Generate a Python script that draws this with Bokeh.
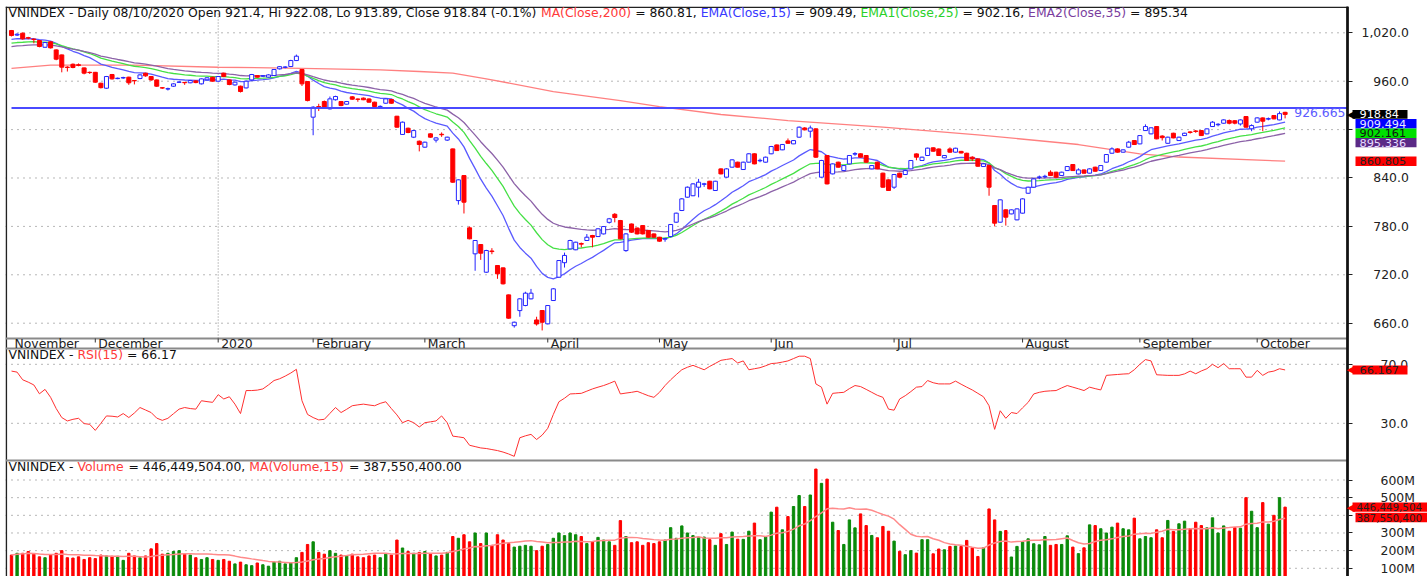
import numpy as np
import pandas as pd
from bokeh.plotting import figure
from bokeh.models import Range1d, Label, BoxAnnotation, FixedTicker, LinearAxis
from bokeh.embed import file_html
from bokeh.resources import INLINE
from bokeh.core.properties import value

# ------------------------------------------------------------------ data
months = ["November", "December", "2020", "February", "March", "April", "May",
          "Jun", "Jul", "August", "September", "October"]
month_start = [0, 15, 37, 54, 74, 96, 116, 136, 158, 181, 202, 223]

open_ = [
    1022.8, 1017.2, 1019.5, 1014.0, 1012.2, 1010.4, 1002.1, 1008.8, 998.8, 992.6, 977.5, 981.0, 980.4, 976.5, 971.0,
    971.0, 957.5, 951.3, 968.3, 963.2, 964.0, 965.0, 960.8, 963.3, 969.9, 965.8, 961.6, 951.9, 950.3, 953.8, 958.6, 958.5, 958.0, 960.4, 956.7, 961.7, 964.9,
    960.0, 970.0, 961.6, 955.4, 953.8, 951.7, 961.6, 967.0, 966.3, 965.0, 967.0, 975.3, 977.2, 978.2, 985.6, 974.5, 959.6,
    915.4, 928.5, 934.8, 925.7, 937.0, 934.8, 931.5, 940.6, 937.9, 939.0, 938.0, 934.0, 928.3, 932.7, 937.3, 916.6, 894.0, 901.7, 890.6, 885.6,
    878.2, 894.7, 887.0, 894.2, 887.0, 876.1, 812.0, 843.0, 778.2, 746.0, 757.5, 723.2, 749.5, 731.5, 728.6, 695.1, 656.9, 675.6, 681.9, 690.2, 664.0, 675.7,
    659.2, 688.1, 717.0, 735.0, 752.1, 751.0, 758.8, 762.5, 768.7, 767.4, 770.7, 785.0, 795.0, 787.3, 750.0, 783.0, 778.0, 781.0, 775.0, 770.7,
    766.6, 764.2, 767.4, 785.2, 799.7, 816.2, 818.0, 828.6, 832.2, 836.0, 824.5, 851.3, 841.0, 853.4, 859.6, 850.5, 859.6, 870.0, 861.3, 859.6,
    870.0, 881.0, 874.9, 886.0, 882.3, 890.6, 902.0, 898.0, 900.9, 841.0, 867.9, 845.1, 859.6, 849.2, 857.5, 869.6, 870.0, 867.9, 851.3, 859.6, 846.0, 837.7,
    828.6, 846.0, 844.3, 851.3, 869.9, 861.7, 867.9, 877.4, 876.0, 865.0, 876.0, 872.0, 873.0, 870.7, 865.8, 863.7, 854.2, 855.4, 805.9, 785.2, 800.5, 795.5, 788.1,
    796.4, 821.1, 828.6, 840.7, 841.5, 847.2, 847.2, 843.0, 849.2, 856.7, 845.0, 850.0, 846.0, 853.4, 849.2, 859.6, 870.7, 876.1, 872.0, 878.2, 886.4,
    882.3, 898.8, 894.7, 903.8, 892.0, 883.0, 895.5, 886.4, 892.6, 897.1, 898.3, 898.8, 894.7, 903.8, 906.0, 907.9, 911.2, 911.0, 907.0, 916.2, 901.0,
    909.2, 914.5, 913.0, 917.4, 912.0, 921.4,
]
high = [
    1023.5, 1019.5, 1020.5, 1015.0, 1013.0, 1011.0, 1008.5, 1009.5, 999.5, 993.0, 978.5, 982.0, 982.0, 977.0, 972.0,
    971.5, 958.0, 966.5, 969.0, 964.5, 965.5, 965.5, 961.5, 968.5, 970.5, 966.5, 962.0, 952.5, 952.0, 957.5, 959.8, 959.0, 961.5, 961.0, 963.5, 965.0, 965.5,
    966.5, 970.5, 962.0, 959.5, 954.5, 960.8, 969.0, 967.5, 967.5, 968.5, 975.0, 978.8, 978.5, 986.5, 993.0, 975.0, 960.0,
    929.0, 932.0, 936.0, 941.0, 942.0, 935.5, 935.5, 941.5, 938.5, 939.8, 938.8, 934.6, 930.0, 938.8, 938.0, 917.0, 910.0, 902.5, 899.5, 886.5,
    885.0, 895.5, 890.5, 896.5, 891.2, 876.5, 838.5, 843.5, 780.0, 763.0, 758.0, 751.0, 753.0, 732.0, 729.0, 695.5, 662.0, 691.0, 699.0, 702.5, 668.0, 676.2,
    682.5, 703.5, 738.3, 747.5, 763.5, 761.0, 760.0, 770.5, 769.5, 777.8, 780.5, 790.5, 796.5, 788.0, 771.5, 783.5, 778.5, 781.5, 775.5, 771.2,
    767.0, 766.0, 783.0, 797.0, 815.0, 829.5, 833.5, 838.9, 834.0, 836.5, 836.5, 852.0, 852.0, 863.2, 860.2, 860.2, 870.8, 870.5, 864.0, 866.5,
    879.8, 881.5, 882.2, 889.0, 887.0, 903.8, 903.0, 905.0, 901.5, 862.5, 868.5, 858.0, 860.2, 856.0, 868.5, 872.0, 870.6, 868.5, 856.0, 860.2, 846.6, 838.2,
    845.0, 846.6, 849.8, 862.3, 870.5, 866.4, 877.6, 878.0, 876.6, 868.5, 878.0, 877.5, 873.6, 871.3, 867.0, 864.3, 858.1, 856.0, 806.5, 813.5, 801.0, 801.0, 802.3,
    814.7, 829.2, 839.5, 843.0, 844.0, 849.5, 847.8, 847.8, 854.8, 857.3, 852.0, 850.6, 851.9, 854.0, 856.0, 869.7, 878.0, 876.7, 875.5, 886.0, 887.0,
    893.2, 906.5, 902.8, 904.4, 893.0, 891.2, 896.1, 891.2, 896.1, 898.0, 899.5, 899.4, 901.5, 910.5, 908.0, 912.6, 912.5, 911.6, 912.6, 916.8, 906.5,
    915.1, 915.1, 915.0, 918.0, 922.5, 922.08,
]
low = [
    1015.5, 1016.0, 1011.5, 1012.0, 1007.0, 1002.0, 1001.5, 1000.5, 986.0, 971.0, 972.0, 976.0, 978.5, 968.5, 969.0,
    958.0, 951.0, 950.5, 962.0, 962.5, 963.0, 955.5, 956.0, 962.5, 965.5, 960.5, 953.0, 950.5, 948.5, 953.0, 958.0, 955.5, 957.5, 957.5, 956.0, 961.0, 959.5,
    959.5, 965.0, 955.0, 954.5, 946.0, 951.0, 961.0, 964.5, 965.5, 964.5, 966.5, 974.5, 976.0, 977.5, 985.0, 954.0, 935.0,
    893.0, 923.0, 926.0, 925.0, 936.0, 929.0, 931.0, 937.0, 934.5, 936.5, 933.5, 928.0, 927.0, 932.0, 932.0, 902.5, 893.5, 895.5, 889.5, 873.0,
    877.5, 890.0, 884.0, 891.0, 886.0, 834.0, 807.0, 796.0, 764.0, 725.0, 738.5, 722.5, 745.5, 715.0, 708.0, 665.5, 654.5, 668.0, 681.0, 689.5, 657.0, 651.0,
    658.5, 687.5, 716.5, 729.0, 751.5, 750.5, 754.0, 762.0, 754.0, 767.0, 770.0, 783.5, 785.0, 764.0, 748.5, 772.0, 770.0, 770.0, 766.0, 766.0,
    761.0, 761.0, 766.5, 784.5, 799.0, 815.5, 817.5, 816.0, 829.0, 826.0, 824.0, 844.5, 840.5, 853.0, 853.0, 850.0, 859.0, 857.0, 859.5, 859.0,
    869.5, 873.5, 874.5, 882.5, 882.0, 890.0, 899.0, 890.0, 865.0, 840.5, 832.0, 844.5, 853.0, 848.5, 857.0, 867.5, 865.2, 859.0, 850.8, 850.8, 828.0, 824.0,
    826.5, 840.5, 843.8, 850.8, 862.0, 861.2, 867.4, 872.7, 867.4, 864.5, 871.5, 871.5, 870.5, 861.2, 861.0, 854.0, 853.7, 818.0, 780.0, 784.7, 781.0, 795.0, 787.6,
    795.9, 820.6, 828.1, 838.5, 839.5, 842.5, 840.5, 842.5, 848.7, 848.7, 844.5, 845.5, 845.5, 847.9, 848.7, 859.1, 870.2, 871.5, 871.5, 877.7, 881.0,
    881.8, 898.3, 894.2, 888.0, 886.5, 882.5, 889.2, 885.9, 892.1, 895.0, 896.0, 892.1, 894.2, 903.3, 904.0, 907.4, 906.5, 906.5, 905.0, 902.5, 898.0,
    908.7, 898.0, 911.5, 912.8, 911.5, 913.89,
]
close = [
    1016.6, 1018.2, 1012.5, 1013.4, 1011.6, 1003.0, 1007.9, 1001.3, 987.3, 977.4, 977.0, 977.0, 979.6, 970.0, 970.7,
    958.8, 952.0, 965.8, 962.9, 963.7, 964.5, 958.0, 960.5, 967.8, 966.6, 961.6, 953.8, 951.5, 950.7, 956.7, 959.0, 958.1, 960.8, 958.3, 962.9, 964.2, 960.0,
    965.8, 965.8, 955.9, 958.8, 947.2, 960.0, 968.3, 965.0, 966.8, 967.8, 974.5, 978.0, 977.6, 985.6, 991.0, 956.7, 936.0,
    927.8, 928.0, 927.0, 938.1, 941.0, 929.8, 934.8, 937.7, 937.5, 937.0, 934.0, 928.6, 928.8, 938.1, 932.7, 903.0, 909.2, 896.4, 898.8, 881.5,
    884.4, 890.6, 889.7, 893.6, 890.6, 834.8, 837.7, 810.0, 764.6, 762.5, 746.8, 750.1, 748.8, 721.2, 708.8, 666.2, 661.2, 690.2, 697.2, 697.2, 659.0, 661.2,
    681.9, 702.6, 737.7, 744.0, 762.5, 760.4, 758.0, 766.6, 766.6, 777.0, 779.8, 789.4, 791.0, 764.6, 770.7, 772.8, 770.7, 770.7, 766.6, 766.6,
    761.7, 764.8, 782.3, 796.4, 814.1, 828.6, 832.7, 834.8, 832.8, 826.5, 836.0, 845.1, 851.3, 862.5, 853.4, 859.6, 870.0, 857.5, 861.9, 865.8,
    879.0, 874.0, 881.5, 883.0, 886.4, 903.0, 899.7, 902.0, 865.8, 861.7, 832.7, 857.5, 853.4, 855.4, 867.9, 870.2, 865.8, 859.6, 855.4, 851.3, 828.6, 824.5,
    844.3, 841.0, 849.2, 861.7, 865.8, 865.8, 877.0, 873.2, 867.9, 867.9, 872.0, 876.9, 871.0, 861.7, 863.7, 854.6, 857.5, 828.6, 784.0, 812.9, 791.4, 800.5, 801.7,
    814.1, 828.6, 838.9, 841.3, 842.1, 843.0, 841.0, 847.2, 854.2, 849.2, 850.0, 846.0, 851.3, 848.4, 855.4, 869.1, 876.1, 872.0, 874.9, 884.4, 881.5,
    892.6, 903.8, 902.2, 888.5, 890.0, 890.6, 889.7, 890.6, 895.5, 896.5, 897.7, 892.6, 900.9, 909.2, 906.6, 912.0, 907.9, 908.0, 912.0, 903.0, 905.0,
    914.5, 910.4, 913.6, 913.3, 919.8, 918.84,
]
volume_m = [
    175, 185, 185, 195, 180, 165, 160, 175, 185, 200, 160, 158, 165, 150, 160,
    155, 175, 170, 168, 168, 145, 185, 170, 160, 170, 210, 240, 180, 185, 195, 200, 180, 175, 160, 150, 160, 150,
    145, 150, 140, 125, 135, 120, 115, 130, 120, 112, 135, 140, 125, 130, 160, 190, 235,
    250, 190, 180, 200, 185, 175, 170, 180, 165, 160, 170, 175, 160, 180, 175, 260, 215, 195, 185, 190,
    195, 180, 170, 175, 190, 280, 270, 290, 250, 300, 240, 300, 230, 290, 260, 240, 220, 225, 230, 225, 200, 225,
    235, 270, 300, 285, 300, 290, 280, 240, 250, 275, 260, 250, 230, 370, 280, 245, 250, 230, 245, 240,
    250, 260, 330, 270, 340, 300, 285, 275,
    277, 262, 230, 296, 235, 305, 265, 264, 310, 356, 262, 277, 418, 446, 318, 393, 450, 512, 450, 515,
    662, 581, 605, 361, 314, 235, 374, 329, 408, 342, 286, 273, 337, 310, 254, 196, 177, 200, 186, 262,
    262, 182, 209, 205, 224, 226, 224, 258, 216, 167, 216, 436, 374, 309, 314, 164, 224, 248, 267, 239,
    233, 280, 230, 235, 235, 284, 220, 183, 216, 346, 342, 324, 300, 333, 356, 324, 318, 384, 267, 280,
    273, 318, 273, 371, 309, 352, 367, 324, 361, 342, 329, 386, 300, 340, 310, 331, 327, 500, 423, 330,
    472, 350, 400, 500, 446.45,
]
rsi15 = [
    65.4, 64.7, 59.5, 57.9, 56.0, 50.0, 53.0, 47.6, 40.0, 33.9, 31.6, 32.7, 33.4, 29.8, 29.3,
    25.2, 30.0, 35.0, 34.8, 34.3, 36.6, 33.9, 37.0, 40.7, 39.0, 37.3, 33.5, 32.0, 33.4, 36.5, 39.6, 40.7, 40.0, 39.6, 45.3, 44.7, 44.2,
    49.4, 46.5, 48.0, 43.0, 36.6, 52.2, 52.2, 52.5, 53.3, 56.0, 59.0, 60.2, 62.0, 64.1, 66.6, 45.3, 36.0,
    33.9, 32.3, 32.7, 36.7, 40.7, 37.3, 39.5, 41.9, 42.5, 43.0, 42.4, 41.9, 43.5, 44.6, 40.0, 35.7, 30.4, 32.0, 30.4, 27.5,
    30.4, 31.0, 31.6, 35.0, 30.4, 21.3, 20.8, 20.2, 15.1, 14.2, 13.3, 12.9, 12.2, 11.5, 10.5, 9.2, 7.6, 20.2, 21.5, 22.5, 19.0, 22.0,
    26.6, 36.0, 44.6, 47.0, 49.9, 50.1, 50.3, 51.8, 53.3, 54.5, 55.6, 57.0, 58.6, 49.9, 50.5, 51.0, 51.7, 50.2, 48.7, 47.6,
    51.0, 55.6, 59.5, 63.0, 66.3, 68.0, 69.3, 67.8, 66.3, 68.6, 70.6, 72.7, 73.3, 73.9, 70.9, 72.3, 66.3, 67.0, 67.7, 69.0,
    70.5, 70.8, 71.5, 72.3, 73.9, 75.5, 75.5, 73.9, 56.7, 54.5, 43.0, 50.3, 50.7, 51.0, 53.5, 55.6, 54.9, 53.0, 51.0, 49.0, 47.6, 39.6,
    38.9, 46.5, 48.7, 51.5, 54.5, 54.9, 59.0, 57.5, 56.7, 56.7, 56.7, 58.6, 56.5, 54.5, 52.6, 50.3, 48.0, 41.9, 25.9, 38.5, 33.4, 37.3, 36.6,
    40.5, 44.2, 49.9, 51.0, 51.7, 52.0, 52.2, 54.0, 55.6, 54.5, 53.4, 52.2, 54.5, 53.5, 52.6, 62.5, 62.8, 63.1, 63.4, 63.6, 66.3,
    70.0, 73.2, 72.3, 62.9, 62.7, 62.5, 62.5, 62.5, 63.5, 65.4, 63.6, 65.5, 67.0, 70.0, 67.7, 70.5, 67.0, 67.0, 67.0, 61.3, 61.3,
    65.9, 62.5, 64.7, 65.4, 67.0, 66.17,
]
ma200_idx = [0, 7, 22, 37, 52, 66, 73, 79, 85, 97, 109, 116, 127, 139, 156, 173, 191, 202, 209, 228]
ma200_val = [976.0, 980.0, 980.0, 977.3, 976.0, 974.0, 972.0, 969.9, 963.0, 947.2, 936.0, 928.6,
             918.7, 911.2, 903.0, 893.5, 881.5, 870.0, 866.0, 860.8]
ema_len = [15, 25, 35]
ema_seed = [1011.2, 1006.3, 1002.0]
resist_level = 926.665
price_ticks = [660, 720, 780, 840, 900, 960, 1020]
rsi_ticks = [30, 70]
vol_ticks = [100, 200, 300, 400, 500, 600]
last_close, last_ema15, last_ema25, last_ema35, last_ma200 = 918.84, 909.494, 902.161, 895.336, 860.805
last_rsi, last_vol, last_volma = 66.167, 446.449504, 387.5504

# ------------------------------------------------------------------ layout / style
FONT = "DejaVu Sans"
FSPX = 12.4
FS = f"{FSPX}px"
TAG_FS = "11.3px"
VTAG_FS = "10.3px"
W, H = 1427, 576
LEFT, TOP = 5, 6
BAR0_PX, BAR_PX = 11.0, 5.586          # pixel of first bar, pixels per bar
BORDER_PX = 1347.0                      # right border of the chart panes


def xd(px):                             # pixel column -> bar coordinate
    return (px - BAR0_PX) / BAR_PX


def price_at(px):
    return 1020.0 - (px - 32.3) * 1.2397


def rsi_at(px):
    return 70.0 - (px - 363.8) / 1.475


def vol_at(px):
    return 600.0 - (px - 479.5) * 5.663


X0, XR, XB = xd(LEFT), xd(W), xd(BORDER_PX)
STRIP_TOP, STRIP_BOT, VOL_TOP = 338.0, 348.0, 460.0

BLUE, RED = "#2323ff", "#ff0000"
C_EMA15, C_EMA25, C_EMA35, C_MA200 = "#5a5aff", "#45e045", "#8c62a8", "#ff8080"
TXT_RED, TXT = "#ff3a3a", "#111111"
GRID = "#6f6f6f"
SEP = "#8a8a8a"

DV = {' ': 651, '%': 1946, '(': 799, ')': 799, ',': 651, '-': 739, '.': 651,
      '/': 690, '=': 1716, 'A': 1401, 'C': 1430, 'D': 1577, 'E': 1294, 'H': 1540, 'I': 604,
      'L': 1141, 'M': 1767, 'N': 1532, 'O': 1612, 'R': 1423, 'S': 1300, 'V': 1401, 'X': 1405,
      'a': 1255, 'e': 1260, 'i': 569, 'l': 569, 'm': 1995, 'n': 1298, 'o': 1253, 'p': 1300,
      's': 1067, 'u': 1298, 'y': 1212}


def tw(s):
    return sum(DV.get(ch, 1303 if ch.isdigit() else 1250) for ch in s) / 2048.0 * FSPX


p = figure(width=W, height=H, x_range=Range1d(X0, XR), y_range=Range1d(price_at(H), price_at(TOP)),
           title=None, output_backend="svg", toolbar_location=None, tools="",
           x_axis_location=None, y_axis_location=None,
           min_border=0, min_border_left=LEFT, min_border_top=TOP, min_border_right=0, min_border_bottom=0)
p.extra_y_ranges = {"rsi": Range1d(rsi_at(H), rsi_at(TOP)), "vol": Range1d(vol_at(H), vol_at(TOP))}
p.outline_line_color = None
p.xgrid.visible = False
p.ygrid.visible = False


def add_axis(rname, ticks, labels, standoff):
    ax = LinearAxis(y_range_name=rname, fixed_location=XB, ticker=FixedTicker(ticks=ticks),
                    major_label_overrides=labels)
    ax.major_tick_out = 5
    ax.major_tick_in = 0
    ax.minor_tick_line_color = None
    ax.major_tick_line_color = "#222222"
    ax.axis_line_color = "#111111"
    ax.axis_line_width = 2
    ax.major_label_standoff = standoff
    ax.major_label_text_font = FONT
    ax.major_label_text_font_size = FS
    ax.major_label_text_color = "#222222"
    p.add_layout(ax, "right")


def hgrid(ticks, rname):
    n = len(ticks)
    p.segment(x0=[X0] * n, y0=ticks, x1=[XB] * n, y1=ticks, y_range_name=rname,
              line_color=GRID, line_width=1, line_dash="1 5")


def title_labels(y_px, segs):
    x = 3.0
    for txt, col in segs:
        stripped = txt.lstrip(' ')
        lead = tw(txt[:len(txt) - len(stripped)])
        p.add_layout(Label(x=x + lead, y=H - y_px, x_units="screen", y_units="screen",
                           text=stripped, text_font=FONT, text_font_size=FS, text_color=col,
                           text_baseline="middle", text_align="left"))
        x += tw(txt)


def tag(rname, yval, half, text, fill, tcol, arrow, left_px, right_px, fs=TAG_FS, text_px=1359):
    p.add_layout(BoxAnnotation(left=left_px - LEFT, right=right_px - LEFT, bottom=yval - half, top=yval + half,
                               left_units="screen", right_units="screen", y_range_name=rname,
                               fill_color=fill, fill_alpha=1.0, line_color=None, level="overlay"))
    if arrow:
        p.add_layout(Label(x=BORDER_PX - 1 - LEFT, y=yval, x_units="screen", y_range_name=rname,
                           text="\u25c0", text_font=FONT, text_font_size="11px", text_color=fill,
                           text_baseline="middle", text_align="left", level="overlay"))
    p.add_layout(Label(x=text_px - LEFT, y=yval, x_units="screen", y_range_name=rname, text=text,
                       text_font=FONT, text_font_size=fs, text_color=tcol,
                       text_baseline="middle", text_align="left", level="overlay"))


N = len(close)
idx = np.arange(N)
o = np.array(open_)
c = np.array(close)
hi = np.array(high)
lo = np.array(low)
up = c >= o

# ------------------------------------------------------------------ grids and pane frames
hgrid(price_ticks, "default")
hgrid(rsi_ticks, "rsi")
hgrid(vol_ticks, "vol")
p.segment(x0=[xd(LEFT + 0.8)], y0=[price_at(TOP)], x1=[xd(LEFT + 0.8)], y1=[price_at(H)],
          line_color="#222222", line_width=1.6)
p.segment(x0=[X0], y0=[price_at(TOP + 0.7)], x1=[XB], y1=[price_at(TOP + 0.7)],
          line_color="#222222", line_width=1.4)
for ypx in (STRIP_TOP, STRIP_BOT, VOL_TOP):
    p.segment(x0=[X0], y0=[price_at(ypx)], x1=[XB], y1=[price_at(ypx)], line_color=SEP, line_width=1.8)

yr = month_start[months.index("2020")]
p.segment(x0=[yr], y0=[price_at(STRIP_TOP)], x1=[yr], y1=[price_at(TOP)], line_color="#8a8a8a",
          line_width=1, line_dash="1 2")

# ------------------------------------------------------------------ price pane
p.line(ma200_idx, ma200_val, line_color=C_MA200, line_width=1.3)
for n, seed, col in zip(ema_len, ema_seed, [C_EMA15, C_EMA25, C_EMA35]):
    a = 2.0 / (n + 1)
    e = seed
    vals = []
    for v in close:
        e = e + a * (v - e)
        vals.append(e)
    p.line(idx, vals, line_color=col, line_width=1.3)

wick_col = np.where(up, BLUE, RED)
p.segment(x0=idx, y0=lo, x1=idx, y1=hi, line_color=list(wick_col), line_width=1)
p.vbar(x=idx[up], width=0.72, top=c[up], bottom=o[up], fill_color="white", line_color=BLUE, line_width=1)
p.vbar(x=idx[~up], width=0.72, top=o[~up], bottom=c[~up], fill_color=RED, line_color=RED, line_width=1)

p.segment(x0=[0], y0=[resist_level], x1=[XB], y1=[resist_level], line_color="#4a4aff", line_width=2)
p.add_layout(Label(x=XB, y=resist_level, text=f"{resist_level:.3f}", text_font=FONT, text_font_size=FS,
                   text_color="#5c5cff", text_align="right", text_baseline="middle",
                   x_offset=-2, y_offset=-4))

nm = len(months)
p.segment(x0=month_start[1:], y0=[price_at(STRIP_TOP)] * (nm - 1), x1=month_start[1:],
          y1=[price_at(STRIP_TOP + 4)] * (nm - 1), line_color="#333333", line_width=1)
p.text(x=month_start, y=[price_at(STRIP_TOP + 5.2)] * nm, text=months, x_offset=3,
       text_font=value(FONT), text_font_size=FS, text_color="#222222",
       text_align="left", text_baseline="middle")

title_labels(12, [
    ("VNINDEX - Daily 08/10/2020 Open 921.4, Hi 922.08, Lo 913.89, Close 918.84 (-0.1%) ", TXT),
    ("MA(Close,200)", TXT_RED), (" = 860.81, ", TXT),
    ("EMA(Close,15)", "#3a3aff"), (" = 909.49, ", TXT),
    ("EMA1(Close,25)", "#2bd12b"), (" = 902.16, ", TXT),
    ("EMA2(Close,35)", "#7a3e9e"), (" = 895.34", TXT),
])

p_labels = {t: (f"{t:,.1f}" if t >= 1000 else "\u00a0\u00a0\u00a0" + f"{t:.1f}") for t in price_ticks}
p_labels[900] = ""
add_axis("default", price_ticks, p_labels, 9)

PXP = 1.2397
step = 9.4 * PXP
tags = [(last_close, "#000000", "white", True, f"{last_close:.2f}"),
        (last_ema15, "#0000ff", "#e8e8ff", False, f"{last_ema15:.3f}"),
        (last_ema25, "#00e000", "#111111", False, f"{last_ema25:.3f}"),
        (last_ema35, "#5b2a86", "#e6dcff", False, f"{last_ema35:.3f}"),
        (last_ma200, "#ff0000", "#222222", False, f"{last_ma200:.3f}")]
prev = None
for v, fill, tcol, arrow, txt in tags:
    y = v if prev is None else min(v, prev - step)
    prev = y
    if arrow:
        tag("default", y, 4.4 * PXP, txt, fill, tcol, True, 1352, 1407)
    else:
        tag("default", y, 4.7 * PXP, txt, fill, tcol, False, 1355, 1416)

# ------------------------------------------------------------------ RSI pane
p.line(idx, rsi15, y_range_name="rsi", line_color="#ff3030", line_width=1)
title_labels(353.5, [("VNINDEX - ", TXT), ("RSI(15)", TXT_RED), (" = 66.17", TXT)])
add_axis("rsi", rsi_ticks, {t: f"{t:.1f}" for t in rsi_ticks}, 28)
tag("rsi", last_rsi, 4.5 / 1.475, f"{last_rsi:.3f}", "#ff0000", "#222222", True, 1352, 1407)

# ------------------------------------------------------------------ volume pane
vcol = np.where(up, "#0a8a0a", "#ff0000")
p.vbar(x=idx, width=0.42, top=volume_m, bottom=0, y_range_name="vol",
       fill_color=list(vcol), line_color=list(vcol))
vma = pd.Series(volume_m).rolling(15, min_periods=1).mean()
p.line(idx, vma, y_range_name="vol", line_color="#ff8a8a", line_width=1.5)
title_labels(466, [("VNINDEX - ", TXT), ("Volume", TXT_RED), (" = 446,449,504.00, ", TXT),
                   ("MA(Volume,15)", TXT_RED), (" = 387,550,400.00", TXT)])
v_labels = {t: f"{t}M" for t in vol_ticks}
v_labels[400] = ""
add_axis("vol", vol_ticks, v_labels, 28)
tag("vol", last_vol, 4.7 * 5.663, "446,449,504", "#ff0000", "#222222", True, 1352, 1430,
    fs=VTAG_FS, text_px=1356)
tag("vol", last_volma, 4.7 * 5.663, "387,550,400", "#ff0000", "#222222", False, 1355, 1430,
    fs=VTAG_FS, text_px=1356)

open("out.html", "w").write(file_html(p, INLINE))
